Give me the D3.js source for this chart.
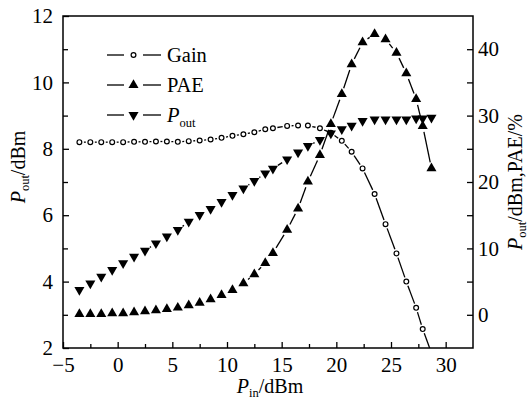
<!DOCTYPE html>
<html>
<head>
<meta charset="utf-8">
<script src="https://cdn.jsdelivr.net/npm/d3@7/dist/d3.min.js"></script>
<style>
  body { margin: 0; background: #fff; }
  text { font-family: "Liberation Serif", "Times New Roman", serif; fill: #000; }
</style>
</head>
<body>
<svg id="chart" width="529" height="399"></svg>
<script>
// input power, dBm
const pin = [-3.5, -2.5, -1.5, -0.5, 0.5, 1.5, 2.5, 3.5, 4.5, 5.5, 6.5, 7.5, 8.5, 9.5,
  10.5, 11.5, 12.5, 13.5, 14.2, 15.5, 16.5, 17.4, 18.5, 19.5, 20.5, 21.4, 22.4, 23.5,
  24.5, 25.5, 26.4, 27.3, 27.9, 28.7];
// gain, left axis
const gain = [8.20, 8.20, 8.20, 8.20, 8.20, 8.21, 8.21, 8.22, 8.22, 8.21, 8.23, 8.25, 8.28, 8.33,
  8.39, 8.44, 8.50, 8.59, 8.62, 8.69, 8.70, 8.70, 8.62, 8.48, 8.24, 7.91, 7.41, 6.64,
  5.73, 4.85, 4.00, 3.21, 2.57, 1.85];
// PAE %, right axis
const pae = [0.1, 0.12, 0.12, 0.22, 0.22, 0.37, 0.53, 0.68, 0.87, 1.07, 1.43, 1.8, 2.33, 2.98,
  3.73, 4.74, 6.1, 7.8, 9.3, 12.8, 16.0, 20.05, 24.07, 28.73, 33.25, 37.73, 41.04, 42.29,
  41.49, 39.47, 36.37, 32.5, 28.43, 22.06];
// output power dBm, right axis
const pout = [3.73, 4.74, 5.74, 6.75, 7.76, 8.75, 9.65, 10.77, 11.8, 12.77, 14.02, 15.03, 15.96, 16.99,
  18.04, 19.05, 20.15, 21.31, 22.0, 23.42, 24.44, 25.42, 26.33, 27.33, 27.94, 28.5, 29.19, 29.44,
  29.44, 29.44, 29.44, 29.59, 29.59, 29.68];

const xTicks = [-5, 0, 5, 10, 15, 20, 25, 30];
const leftTicks = [2, 4, 6, 8, 10, 12];
const rightTicks = [0, 10, 20, 30, 40];

const svg = d3.select('#chart');
const m = {left: 63, right: 473, top: 16, bottom: 348};

let x = d3.scaleLinear().domain([-5, 32.5]).range([m.left, m.right]);
let yL = d3.scaleLinear().domain([2, 12]).range([m.bottom, m.top]);
let yR = d3.scaleLinear().domain([-5, 45]).range([m.bottom, m.top]);

svg.append('defs').append('clipPath').attr('id', 'plot')
  .append('rect').attr('x', m.left).attr('y', m.top)
  .attr('width', m.right - m.left).attr('height', m.bottom - m.top);

// axes, ticks pointing inside
function styleAxis(g) {
  g.select('.domain').remove();
  g.selectAll('line').attr('stroke', '#000').attr('stroke-width', 1.3);
  g.selectAll('text').attr('font-size', 21);
}

svg.append('g').attr('transform', `translate(0,${m.bottom})`)
  .call(d3.axisBottom(x).tickValues(xTicks).tickSize(-6).tickPadding(9).tickFormat(d3.format('d')))
  .call(styleAxis);
svg.append('g').attr('transform', `translate(0,${m.bottom})`)
  .call(d3.axisBottom(x).tickValues(d3.range(-2.5, 32.5, 5)).tickSize(-4).tickFormat(''))
  .call(styleAxis);

svg.append('g').attr('transform', `translate(${m.left},0)`)
  .call(d3.axisLeft(yL).tickValues(leftTicks).tickSize(-6).tickPadding(10).tickFormat(d3.format('d')))
  .call(styleAxis);
svg.append('g').attr('transform', `translate(${m.left},0)`)
  .call(d3.axisLeft(yL).tickValues([3, 5, 7, 9, 11]).tickSize(-5).tickFormat(''))
  .call(styleAxis);

svg.append('g').attr('transform', `translate(${m.right},0)`)
  .call(d3.axisRight(yR).tickValues(rightTicks).tickSize(-6).tickPadding(5).tickFormat(d3.format('d')))
  .call(styleAxis);
svg.append('g').attr('transform', `translate(${m.right},0)`)
  .call(d3.axisRight(yR).tickValues([5, 15, 25, 35]).tickSize(-6).tickFormat(''))
  .call(styleAxis);

svg.append('rect')
  .attr('x', m.left).attr('y', m.top)
  .attr('width', m.right - m.left).attr('height', m.bottom - m.top)
  .attr('fill', 'none').attr('stroke', '#000').attr('stroke-width', 1.5);

// lines with a gap round each symbol
const plot = svg.append('g').attr('clip-path', 'url(#plot)');

function drawSeries(xs, ys, yScale, gap, symbol) {
  let pts = xs.map((d, i) => [x(d), yScale(ys[i])]);
  for (let i = 1; i < pts.length; i++) {
    let [x1, y1] = pts[i - 1];
    let [x2, y2] = pts[i];
    let len = Math.hypot(x2 - x1, y2 - y1);
    if (len <= 2 * gap + 1) continue;
    let ux = (x2 - x1) / len, uy = (y2 - y1) / len;
    plot.append('line')
      .attr('x1', x1 + ux * gap).attr('y1', y1 + uy * gap)
      .attr('x2', x2 - ux * gap).attr('y2', y2 - uy * gap)
      .attr('stroke', '#000').attr('stroke-width', 1.3);
  }
  for (let p of pts) symbol(plot, p[0], p[1]);
}

function circle(g, cx, cy) {
  g.append('circle').attr('cx', cx).attr('cy', cy).attr('r', 2.4)
    .attr('fill', '#fff').attr('stroke', '#000').attr('stroke-width', 1.2);
}
const tri = d3.symbol(d3.symbolTriangle, 44);
function upTri(g, cx, cy) {
  g.append('path').attr('d', tri()).attr('transform', `translate(${cx},${cy})`).attr('fill', '#000');
}
function downTri(g, cx, cy) {
  g.append('path').attr('d', tri()).attr('transform', `translate(${cx},${cy}) rotate(180)`).attr('fill', '#000');
}

drawSeries(pin, gain, yL, 4.5, circle);
drawSeries(pin, pae, yR, 6, upTri);
drawSeries(pin, pout, yR, 6, downTri);

// legend
const legend = [
  {label: 'Gain', sym: circle, y: 55},
  {label: 'PAE', sym: upTri, y: 85},
  {label: 'P', sub: 'out', sym: downTri, y: 115},
];
for (let item of legend) {
  svg.append('line').attr('x1', 107).attr('x2', 124).attr('y1', item.y).attr('y2', item.y)
    .attr('stroke', '#000').attr('stroke-width', 1.3);
  svg.append('line').attr('x1', 143).attr('x2', 161).attr('y1', item.y).attr('y2', item.y)
    .attr('stroke', '#000').attr('stroke-width', 1.3);
  item.sym(svg, 133.5, item.y);
  let t = svg.append('text').attr('x', 167).attr('y', item.y + 7).attr('font-size', 20.5);
  if (item.sub) {
    t.append('tspan').attr('font-style', 'italic').text(item.label);
    t.append('tspan').attr('font-size', 12.5).attr('dy', 5).text(item.sub);
  } else {
    t.text(item.label);
  }
}

// axis titles
function title(tx, ty, rot, main, sub, rest) {
  let t = svg.append('text').attr('font-size', 20).attr('text-anchor', 'middle')
    .attr('transform', `translate(${tx},${ty}) rotate(${rot})`);
  t.append('tspan').attr('font-style', 'italic').text(main);
  t.append('tspan').attr('font-size', 12.5).attr('dy', 4).text(sub);
  t.append('tspan').attr('dy', -4).text(rest);
}
title(270, 393, 0, 'P', 'in', '/dBm');
title(25, 167, -90, 'P', 'out', '/dBm');
title(522, 182, -90, 'P', 'out', '/dBm,PAE/%');
</script>
</body>
</html>
